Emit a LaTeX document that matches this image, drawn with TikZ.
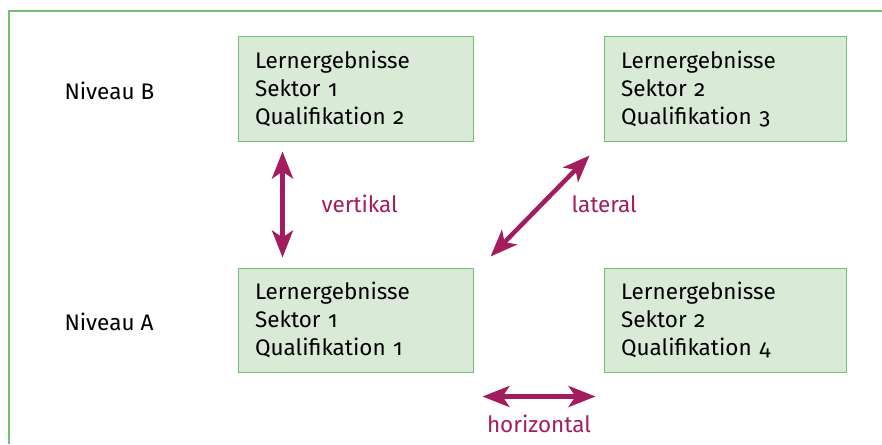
\documentclass[tikz,border=0pt]{standalone}
\usepackage{fontspec}
\setmainfont[Numbers=OldStyle]{Fira Sans}
\usepackage{tikz}
\usetikzlibrary{arrows.meta,positioning}
\usepackage{xcolor}
\definecolor{boxgreen}{RGB}{217,234,215}
\definecolor{linegreen}{RGB}{118,192,118}
\definecolor{pathmag}{RGB}{163,29,94}
\tikzstyle{box} = [rectangle, draw=linegreen, fill=boxgreen, line width=1pt, minimum height=104, inner xsep=17pt, align=left, font=\fontsize{22.5}{28}\selectfont]
\tikzstyle{level} = [anchor=west, font=\fontsize{22.5}{26}\selectfont]
\tikzstyle{lbl} = [color=pathmag, font=\fontsize{22.5}{26}\selectfont]
\tikzstyle{arrow} = [line width=4.5pt, color=pathmag, {Stealth[length=27pt,width=21pt,inset=7pt]}-{Stealth[length=27pt,width=21pt,inset=7pt]}]

\begin{document}
\begin{tikzpicture}[x=1pt, y=-1pt]
    \useasboundingbox (0,0) rectangle (882,444);
    % Frame
    \draw[linegreen, line width=1.2pt] (9,444) -- (9,11) -- (882,11);

    % Niveau B
    \node[level] (nivb) at (61,91) {Niveau B};
    \node[box, text width=201pt] (b1) at (355.5,89) {Lernergebnisse\\Sektor 1\\Qualifikation 2};
    \node[box, text width=208pt] (b2) at (725,89) {Lernergebnisse\\Sektor 2\\Qualifikation 3};

    % Niveau A
    \node[level] (niva) at (61,322) {Niveau A};
    \node[box, text width=201pt] (a1) at (355.5,320) {Lernergebnisse\\Sektor 1\\Qualifikation 1};
    \node[box, text width=208pt] (a2) at (725,320) {Lernergebnisse\\Sektor 2\\Qualifikation 4};

    % Arrows
    \draw[arrow] ([xshift=45pt,yshift=-10pt]b1.south west) -- ([xshift=45pt,yshift=10pt]a1.north west);
    \node[lbl, anchor=west] (vert) at (318,204) {vertikal};

    \draw[arrow] ([xshift=17pt,yshift=11pt]a1.north east) -- ([xshift=-14pt,yshift=-14pt]b2.south west);
    \node[lbl, anchor=west] (lat) at (568,204) {lateral};

    \draw[arrow] ([xshift=9pt,yshift=-24pt]a1.south east) -- ([xshift=-8pt,yshift=-24pt]a2.south west);
    \node[lbl] (hor) at (539,424) {horizontal};
\end{tikzpicture}
\end{document}
